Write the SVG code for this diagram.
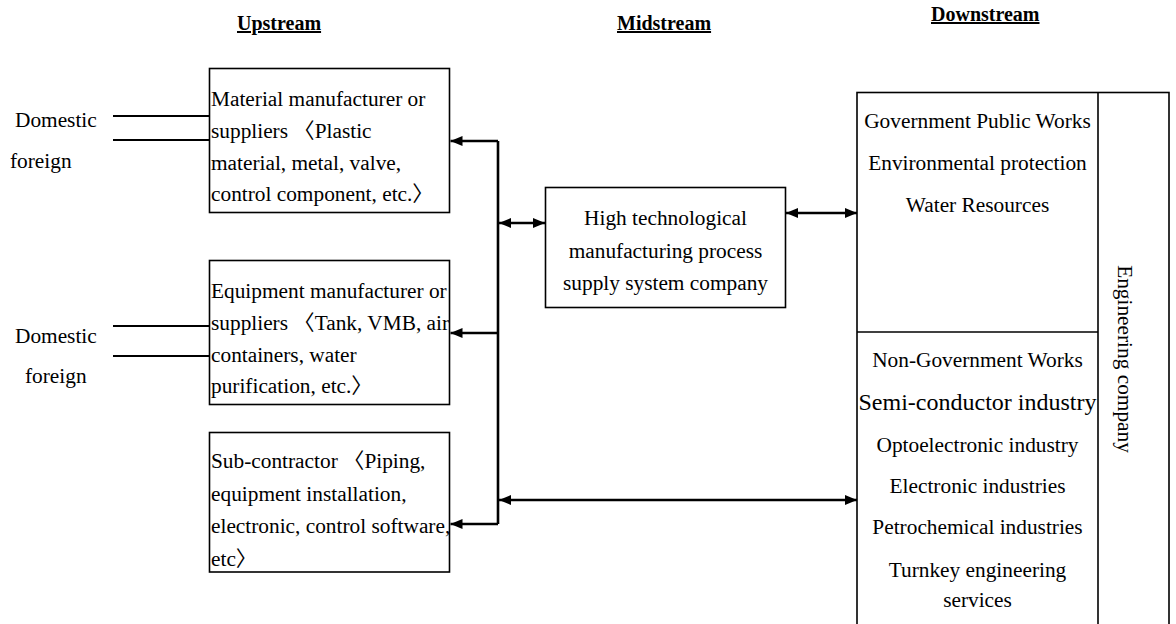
<svg xmlns="http://www.w3.org/2000/svg" width="1176" height="624" viewBox="0 0 1176 624">
<style>
text{font-family:"Liberation Serif","Noto Sans CJK SC",serif;font-size:21.33px;fill:#000}
.h{font-weight:bold;font-size:20px;text-decoration:underline}
.c{text-anchor:middle}
.box{fill:#fff;stroke:#000;stroke-width:1.6}
.ln{stroke:#000;stroke-width:2.2;fill:none}
.ar{stroke:#000;stroke-width:2.6;fill:none}
</style>
<defs>
<marker id="ah" viewBox="0 0 12 10" refX="12" refY="5" markerWidth="12" markerHeight="10" markerUnits="userSpaceOnUse" orient="auto-start-reverse">
<path d="M0,0 L12,5 L0,10 Z" fill="#000"/>
</marker>
</defs>
<rect width="1176" height="624" fill="#fff"/>
<g id="headers">
<text class="h" x="237" y="30">Upstream</text>
<text class="h" x="617" y="30">Midstream</text>
<text class="h" x="931" y="21">Downstream</text>
</g>
<g id="sources">
<text x="15" y="127">Domestic</text>
<text x="10" y="168">foreign</text>
<text x="15" y="343">Domestic</text>
<text x="25" y="383">foreign</text>
</g>
<g id="material">
<rect class="box" x="209.5" y="68.5" width="240" height="144"/>
<text x="211" y="106">Material manufacturer or</text>
<text x="211" y="138">suppliers 〈Plastic</text>
<text x="211" y="170">material, metal, valve,</text>
<text x="211" y="201">control component, etc.〉</text>
</g>
<g id="equipment">
<rect class="box" x="209.5" y="260.5" width="240" height="144"/>
<text x="211" y="298">Equipment manufacturer or</text>
<text x="211" y="330">suppliers 〈Tank, VMB, air</text>
<text x="211" y="362">containers, water</text>
<text x="211" y="393">purification, etc.〉</text>
</g>
<g id="subcontractor">
<rect class="box" x="209.5" y="432.5" width="240" height="139.5"/>
<text x="211" y="468">Sub-contractor 〈Piping,</text>
<text x="211" y="501">equipment installation,</text>
<text x="211" y="533">electronic, control software,</text>
<text x="211" y="566">etc〉</text>
</g>
<g id="midstream">
<rect class="box" x="545.5" y="187.5" width="240" height="120"/>
<text class="c" x="665.5" y="225">High technological</text>
<text class="c" x="665.5" y="258">manufacturing process</text>
<text class="c" x="665.5" y="290">supply system company</text>
</g>
<g id="downstream">
<rect class="box" x="857" y="92.5" width="312" height="540"/>
<line x1="1098" y1="92.5" x2="1098" y2="630" stroke="#000" stroke-width="1.6"/>
<line x1="857" y1="332" x2="1098" y2="332" stroke="#000" stroke-width="1.6"/>
<text class="c" x="977.5" y="128">Government Public Works</text>
<text class="c" x="977.5" y="170">Environmental protection</text>
<text class="c" x="977.5" y="212">Water Resources</text>
<text class="c" x="977.5" y="367">Non-Government Works</text>
<text class="c" x="977.5" y="410" style="font-size:24px">Semi-conductor industry</text>
<text class="c" x="977.5" y="452">Optoelectronic industry</text>
<text class="c" x="977.5" y="493">Electronic industries</text>
<text class="c" x="977.5" y="534">Petrochemical industries</text>
<text class="c" x="977.5" y="577">Turnkey engineering</text>
<text class="c" x="977.5" y="607">services</text>
<text class="c" transform="translate(1118,359) rotate(90)">Engineering company</text>
</g>
<g id="connectors">
<line class="ln" x1="113" y1="116" x2="210" y2="116"/>
<line class="ln" x1="113" y1="140" x2="210" y2="140"/>
<line class="ln" x1="113" y1="326" x2="210" y2="326"/>
<line class="ln" x1="113" y1="356" x2="210" y2="356"/>
<polyline class="ar" points="498,141 498,524"/>
<line class="ar" x1="498" y1="141" x2="450.5" y2="141" marker-end="url(#ah)"/>
<line class="ar" x1="498" y1="333" x2="450.5" y2="333" marker-end="url(#ah)"/>
<line class="ar" x1="498" y1="524" x2="450.5" y2="524" marker-end="url(#ah)"/>
<line class="ar" x1="499" y1="223" x2="545" y2="223" marker-start="url(#ah)" marker-end="url(#ah)"/>
<line class="ar" x1="786" y1="213" x2="857" y2="213" marker-start="url(#ah)" marker-end="url(#ah)"/>
<line class="ar" x1="499" y1="500" x2="857" y2="500" marker-start="url(#ah)" marker-end="url(#ah)"/>
</g>
</svg>
